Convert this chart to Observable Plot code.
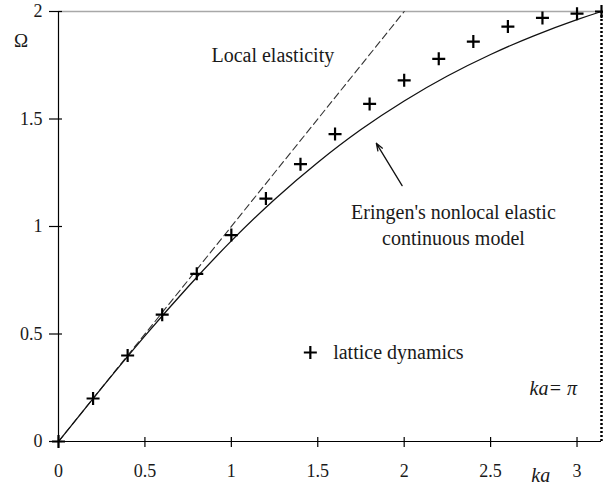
<!DOCTYPE html>
<html>
<head>
<meta charset="utf-8">
<script src="https://cdn.jsdelivr.net/npm/d3@7"></script>
<script src="https://cdn.jsdelivr.net/npm/@observablehq/plot@0.6"></script>
<style>
  html, body { margin: 0; padding: 0; background: #fff; }
  #chart svg { display: block; }
</style>
</head>
<body>
<div id="chart"></div>
<script>
// ---- data ----
const kaLattice = [0, 0.2, 0.4, 0.6, 0.8, 1.0, 1.2, 1.4, 1.6, 1.8, 2.0, 2.2, 2.4, 2.6, 2.8, 3.0, 3.1416];
const omegaLattice = [0, 0.20, 0.40, 0.59, 0.78, 0.96, 1.13, 1.29, 1.43, 1.57, 1.68, 1.78, 1.86, 1.93, 1.97, 1.99, 2.0];

const kaEringen = [0, 0.25, 0.5, 0.75, 1.0, 1.25, 1.5, 1.75, 2.0, 2.25, 2.5, 2.75, 3.0, 3.1416];
const omegaEringen = [0, 0.249, 0.491, 0.72, 0.933, 1.126, 1.298, 1.451, 1.584, 1.70, 1.80, 1.887, 1.962, 2.0];

const kaLocal = [0, 2];
const omegaLocal = [0, 2];

const kaBoundary = [3.1416];

const xTicks = [0, 0.5, 1, 1.5, 2, 2.5, 3];
const yTicks = [0, 0.5, 1, 1.5, 2];

const centerTexts = ["Local elasticity", "Eringen's nonlocal elastic\ncontinuous model"];
const centerKa = [1.24, 2.285];
const centerOmega = [1.805, 1.013];

const legendText = ["lattice dynamics"];
const legendTextKa = [1.589];
const legendKa = [1.457];
const legendOmega = [0.414];

const boundaryText = ["ka= \u03C0"];
const boundaryTextKa = [3.0];
const boundaryTextOmega = [0.245];

const xLabel = ["ka"];
const xLabelKa = [2.79];
const xLabelOmega = [-0.16];

const yLabel = ["\u03A9"];
const yLabelKa = [-0.217];
const yLabelOmega = [1.865];

const arrowKa1 = [1.988], arrowOmega1 = [1.19], arrowKa2 = [1.839], arrowOmega2 = [1.387];

// ---- build ----
const lattice = kaLattice.map((k, i) => ({ka: k, om: omegaLattice[i]}));
const eringen = kaEringen.map((k, i) => ({ka: k, om: omegaEringen[i]}));
const local = kaLocal.map((k, i) => ({ka: k, om: omegaLocal[i]}));
const legend = legendKa.map((k, i) => ({ka: k, om: legendOmega[i]}));
const arrows = arrowKa1.map((k, i) => ({x1: k, y1: arrowOmega1[i], x2: arrowKa2[i], y2: arrowOmega2[i]}));

const plusSymbol = {
  draw(context, size) {
    const r = Math.sqrt(size / Math.PI);
    context.moveTo(-r, 0); context.lineTo(r, 0);
    context.moveTo(0, -r); context.lineTo(0, r);
  }
};

const font = "Liberation Serif";
const ink = "#1a1a1a";

const chart = Plot.plot({
  width: 603,
  height: 488,
  marginLeft: 58,
  marginRight: 2,
  marginTop: 11,
  marginBottom: 47,
  x: {domain: [0, 3.1416], axis: null},
  y: {domain: [0, 2], axis: null},
  style: {fontFamily: font, fontSize: "18px", background: "white", overflow: "visible"},
  marks: [
    Plot.ruleY([2], {stroke: "#a8a8a8", strokeWidth: 1.5}),
    Plot.ruleY([0], {stroke: "black", strokeWidth: 1.2}),
    Plot.ruleX([0], {y1: 0, y2: 2, stroke: "black", strokeWidth: 1.2}),
    Plot.ruleX(xTicks, {y1: 0, y2: 0, insetTop: -4, insetBottom: -6, stroke: "black", strokeWidth: 1.2}),
    Plot.ruleY(yTicks, {x1: 0, x2: 0, insetLeft: -9, insetRight: -4, stroke: "black", strokeWidth: 1.2}),
    Plot.text(xTicks, {x: d => d, y: 0, dy: 30, text: d => String(d), fill: ink, fontSize: 18}),
    Plot.text(yTicks, {x: 0, y: d => d, dx: -16, textAnchor: "end", text: d => String(d), fill: ink, fontSize: 18}),
    Plot.ruleX(kaBoundary, {y1: 0, y2: 2, stroke: "black", strokeWidth: 2.5, strokeDasharray: "2,2"}),
    Plot.line(local, {x: "ka", y: "om", stroke: "#333", strokeWidth: 1.1, strokeDasharray: "7,4"}),
    Plot.line(eringen, {x: "ka", y: "om", stroke: "#111", strokeWidth: 1.3, curve: "natural"}),
    Plot.dot(lattice, {x: "ka", y: "om", symbol: plusSymbol, r: 6.5, stroke: "black", strokeWidth: 2.2, fill: "none"}),
    Plot.dot(legend, {x: "ka", y: "om", symbol: plusSymbol, r: 6.5, stroke: "black", strokeWidth: 2.2, fill: "none"}),
    Plot.arrow(arrows, {x1: "x1", y1: "y1", x2: "x2", y2: "y2", stroke: "#111", strokeWidth: 1.3, headLength: 9, headAngle: 40}),
    Plot.text(centerTexts, {x: centerKa, y: centerOmega, text: d => d, fill: ink, fontSize: 20, lineHeight: 1.3}),
    Plot.text(legendText, {x: legendTextKa, y: legendOmega, text: d => d, textAnchor: "start", fill: ink, fontSize: 20}),
    Plot.text(boundaryText, {x: boundaryTextKa, y: boundaryTextOmega, text: d => d, textAnchor: "end", fill: ink, fontSize: 20, fontStyle: "italic"}),
    Plot.text(xLabel, {x: xLabelKa, y: xLabelOmega, text: d => d, fill: ink, fontSize: 20, fontStyle: "italic"}),
    Plot.text(yLabel, {x: yLabelKa, y: yLabelOmega, text: d => d, fill: ink, fontSize: 19})
  ]
});

document.getElementById("chart").appendChild(chart);
</script>
</body>
</html>
